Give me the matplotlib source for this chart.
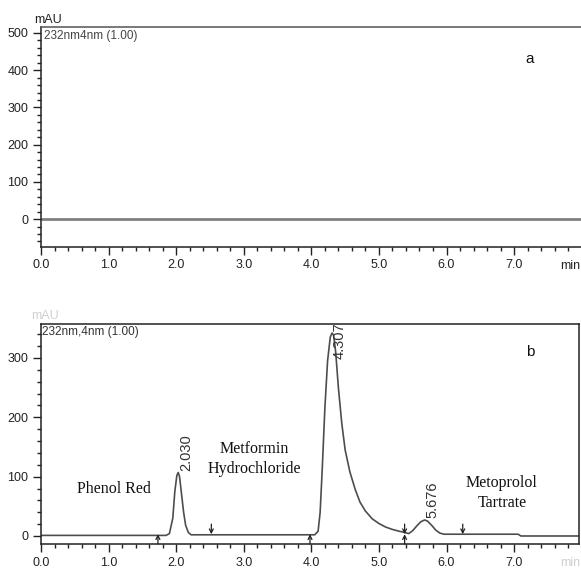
import matplotlib.pyplot as plt
from matplotlib.ticker import MultipleLocator

plt.rcParams['font.family'] = ['Liberation Sans', 'DejaVu Sans']

# panel b trace (time in min, signal in mAU)
time_b = [0.0, 0.5, 1.0, 1.5, 1.85, 1.90, 1.95, 1.98, 2.01, 2.03, 2.05, 2.08, 2.11, 2.14,
          2.18, 2.22, 2.5, 3.0, 3.5, 4.05, 4.10, 4.13, 4.16, 4.20, 4.24, 4.28, 4.307,
          4.33, 4.36, 4.40, 4.45, 4.50, 4.57, 4.65, 4.72, 4.80, 4.90, 5.00, 5.10, 5.20,
          5.30, 5.38, 5.44, 5.50, 5.56, 5.62, 5.676, 5.72, 5.78, 5.84, 5.90, 5.96, 6.2,
          6.6, 7.0, 7.06, 7.10, 7.5, 7.96]
signal_b = [1, 1, 1, 1, 1, 4, 30, 75, 102, 107, 100, 70, 40, 18,
            6, 2, 2, 2, 2, 2, 8, 40, 110, 215, 295, 335, 342,
            338, 310, 250, 190, 145, 108, 78, 57, 42, 29, 21, 15, 11,
            8, 6, 4, 9, 17, 24, 27, 25, 18, 10, 5, 3, 3,
            3, 3, 3, 0, 0, 0]

# panel a: flat blank run
time_a = [0.0, 8.0]
signal_a = [0, 0]

peak_rt = [2.030, 4.307, 5.676]
peak_h = [107, 342, 27]

# integration marks: (time, kind)
mark_t = [1.73, 2.52, 3.98, 5.38, 6.24]
mark_k = ['up', 'down', 'up', 'both', 'down']

names = ['Phenol Red', 'Metformin\nHydrochloride', 'Metoprolol\nTartrate']
name_x = [1.08, 3.15, 6.82]
name_y = [79, 130, 72]

ink = '#222222'
fig = plt.figure(figsize=(5.81, 5.70), dpi=100)

def style_axis(ax, ymaj, ymin_):
    ax.xaxis.set_major_locator(MultipleLocator(1.0))
    ax.xaxis.set_minor_locator(MultipleLocator(0.2))
    ax.yaxis.set_major_locator(MultipleLocator(ymaj))
    ax.yaxis.set_minor_locator(MultipleLocator(ymin_))
    ax.tick_params(which='major', direction='out', length=6, width=1, colors=ink,
                   labelsize=9, pad=3)
    ax.tick_params(which='minor', direction='out', length=3, width=1, colors=ink)
    ax.xaxis.set_major_formatter(lambda v, p: f'{v:.1f}' if v < 7.5 else '')
    for s in ax.spines.values():
        s.set_color(ink)
        s.set_linewidth(1.1)

# ---- panel a
ax1 = fig.add_axes([41/581, 1-247/570, 1-41/581, 220/570])
ax1.plot(time_a, signal_a, color='#808080', lw=2)
ax1.set_xlim(0, 7.99)
ax1.set_ylim(-75, 516)
style_axis(ax1, 100, 20)
ax1.spines['right'].set_visible(False)
ax1.spines['top'].set_color('#555555')
ax1.text(0.005, 0.985, '232nm4nm (1.00)', transform=ax1.transAxes, fontsize=8.5,
         color='#444444', va='top', ha='left')
ax1.text(7.23, 430, 'a', fontsize=11, color='#111111', ha='center', va='center')
fig.text(48/581, 1-20/570, 'mAU', fontsize=9, color=ink, ha='center', va='center')
fig.text(570/581, 1-266/570, 'min', fontsize=9, color=ink, ha='center', va='center')

# ---- panel b
ax2 = fig.add_axes([41/581, 1-544/570, 538/581, 220.5/570])
ax2.plot(time_b, signal_b, color='#4d4d4d', lw=1.2)
ax2.set_xlim(0, 7.96)
ax2.set_ylim(-13.5, 358)
style_axis(ax2, 100, 20)
ax2.text(0.002, 0.99, '232nm,4nm (1.00)', transform=ax2.transAxes, fontsize=8.5,
         color='#333333', va='top', ha='left')
ax2.text(7.24, 310, 'b', fontsize=11, color='#111111', ha='center', va='center')
fig.text(45/581, 1-316/570, 'mAU', fontsize=9, color='#d0d0d0', ha='center', va='center')
fig.text(570/581, 1-563/570, 'min', fontsize=9, color='#d0d0d0', ha='center', va='center')

top = ax2.get_ylim()[1]
for rt, h in zip(peak_rt, peak_h):
    if h + 70 > top:
        ax2.text(rt + 0.11, top + 2, f'{rt:.3f}', rotation=90, fontsize=10.5,
                 color='#333333', ha='center', va='top', clip_on=False)
    else:
        ax2.text(rt + 0.12, h + 3, f'{rt:.3f}', rotation=90, fontsize=10.5,
                 color='#333333', ha='center', va='bottom')

for t, k in zip(mark_t, mark_k):
    if k in ('up', 'both'):
        ax2.annotate('', xy=(t, 3), xytext=(t, -13.5),
                     arrowprops=dict(arrowstyle='->', color=ink, lw=0.9,
                                     shrinkA=0, shrinkB=0, mutation_scale=7))
    if k in ('down', 'both'):
        ax2.annotate('', xy=(t, 3), xytext=(t, 20),
                     arrowprops=dict(arrowstyle='->', color=ink, lw=0.9,
                                     shrinkA=0, shrinkB=0, mutation_scale=7))

for n, x, y in zip(names, name_x, name_y):
    ax2.text(x, y, n, fontsize=11.5, family='Liberation Serif', color='#111111',
             ha='center', va='center', linespacing=1.3)

fig.savefig('out.png', dpi=100)
